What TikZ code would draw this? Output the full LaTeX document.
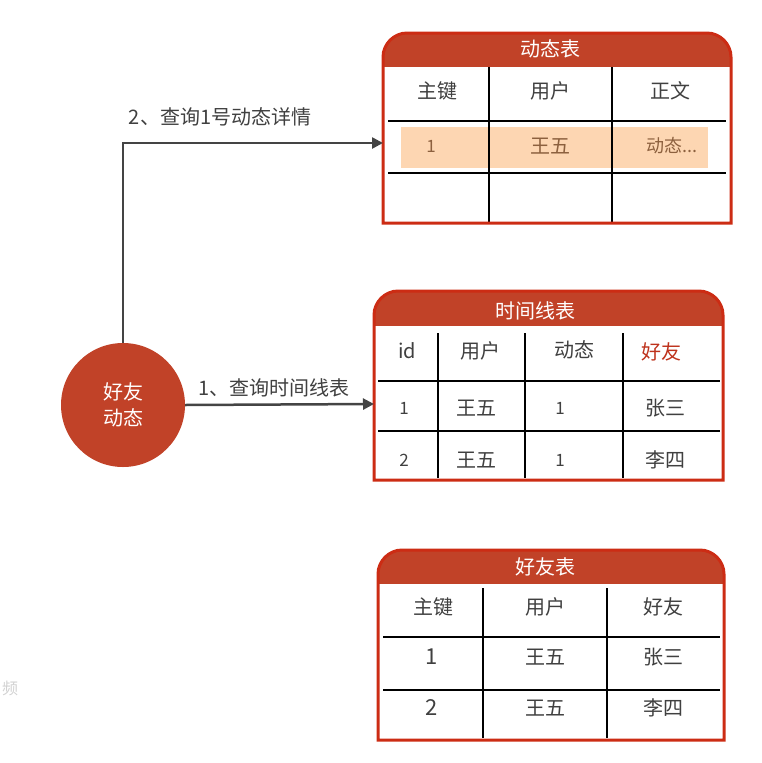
\documentclass[tikz,border=0pt]{standalone}
\usepackage{fontspec}
\setmainfont{Noto Sans CJK SC}
\usetikzlibrary{arrows.meta}

\definecolor{tblred}{RGB}{204,44,20}
\definecolor{headred}{RGB}{193,66,40}
\definecolor{hilite}{RGB}{253,214,178}
\definecolor{hitext}{RGB}{140,96,62}
\definecolor{txtgray}{RGB}{64,64,64}
\definecolor{arrgray}{RGB}{68,68,68}
\definecolor{redtext}{RGB}{190,50,28}

\begin{document}
\begin{tikzpicture}[
    x=1pt, y=-1pt,
    frame/.style={draw=tblred, line width=3pt},
    grid/.style={draw=black, line width=1.8pt},
    cell/.style={text=txtgray, font=\fontsize{20}{24}\selectfont, inner sep=0pt},
    title/.style={text=white, font=\fontsize{20}{24}\selectfont, inner sep=0pt},
    flow/.style={draw=arrgray, line width=2.5pt, -{Triangle[length=11pt, width=11pt]}},
]
\useasboundingbox (0,0) rectangle (762,763);

\node[text=black!18, font=\fontsize{16}{20}\selectfont, inner sep=0pt] (mark) at (10,688) {频};

% 动态表
\fill[headred] (383,67) -- (383,57) .. controls (383,44) and (394,33) .. (407,33) -- (707,33)
    .. controls (720,33) and (731,44) .. (731,57) -- (731,67) -- cycle;
\fill[white] (383,67) rectangle (731,223);
\fill[hilite] (401,127) rectangle (708,168);
\draw[grid] (489,67) -- (489,223) (612,67) -- (612,223);
\draw[grid] (388,121) -- (726,121) (388,173) -- (726,173);
\draw[frame] (383,223) -- (383,57) .. controls (383,44) and (394,33) .. (407,33) -- (707,33)
    .. controls (720,33) and (731,44) .. (731,57) -- (731,223) -- cycle;
\node[title] (detail) at (550,49) {动态表};
\node[cell] (detail_key) at (437,91) {主键};
\node[cell] (detail_user) at (550,91) {用户};
\node[cell] (detail_body) at (670,91) {正文};
\node[cell, text=hitext, font=\fontsize{17}{20}\selectfont] (detail_id) at (431,146) {1};
\node[cell, text=hitext] (detail_name) at (550,146) {王五};
\node[cell, text=hitext, font=\fontsize{18}{20}\selectfont] (detail_text) at (672,146) {动态...};
\coordinate (detail_in) at (383,143);

% 时间线表
\fill[headred] (374,326) -- (374,315) .. controls (374,302) and (385,291) .. (398,291) -- (699,291)
    .. controls (712,291) and (723,302) .. (723,315) -- (723,326) -- cycle;
\fill[white] (374,326) rectangle (723,480);
\draw[grid] (438,333) -- (438,478) (525,333) -- (525,478) (623,333) -- (623,478);
\draw[grid] (378,381) -- (720,381) (378,431) -- (720,431);
\draw[frame] (374,480) -- (374,315) .. controls (374,302) and (385,291) .. (398,291) -- (699,291)
    .. controls (712,291) and (723,302) .. (723,315) -- (723,480) -- cycle;
\node[title] (timeline) at (535,311) {时间线表};
\node[cell] (tl_id) at (407,351) {id};
\node[cell] (tl_user) at (480,351) {用户};
\node[cell] (tl_feed) at (574,350) {动态};
\node[cell, text=redtext] (tl_friend) at (661,352) {好友};
\node[cell, font=\fontsize{17}{20}\selectfont] (tl_id1) at (404,408) {1};
\node[cell] (tl_user1) at (476,408) {王五};
\node[cell, font=\fontsize{17}{20}\selectfont] (tl_feed1) at (560,408) {1};
\node[cell] (tl_friend1) at (665,408) {张三};
\node[cell, font=\fontsize{17}{20}\selectfont] (tl_id2) at (404,460) {2};
\node[cell] (tl_user2) at (476,460) {王五};
\node[cell, font=\fontsize{17}{20}\selectfont] (tl_feed2) at (560,460) {1};
\node[cell] (tl_friend2) at (665,460) {李四};
\coordinate (timeline_in) at (374,404);

% 好友表
\fill[headred] (378,584) -- (378,574) .. controls (378,561) and (389,550) .. (402,550) -- (700,550)
    .. controls (713,550) and (724,561) .. (724,574) -- (724,584) -- cycle;
\fill[white] (378,584) rectangle (724,740);
\draw[grid] (483,588) -- (483,738) (607,588) -- (607,738);
\draw[grid] (383,637) -- (720,637) (383,690) -- (720,690);
\draw[frame] (378,740) -- (378,574) .. controls (378,561) and (389,550) .. (402,550) -- (700,550)
    .. controls (713,550) and (724,561) .. (724,574) -- (724,740) -- cycle;
\node[title] (friends) at (545,567) {好友表};
\node[cell] (fr_key) at (433,607) {主键};
\node[cell] (fr_user) at (545,607) {用户};
\node[cell] (fr_friend) at (663,607) {好友};
\node[cell, font=\fontsize{22}{24}\selectfont] (fr_id1) at (432,657) {1};
\node[cell] (fr_user1) at (545,657) {王五};
\node[cell] (fr_friend1) at (663,657) {张三};
\node[cell, font=\fontsize{22}{24}\selectfont] (fr_id2) at (432,708) {2};
\node[cell] (fr_user2) at (545,708) {王五};
\node[cell] (fr_friend2) at (663,708) {李四};

% 好友动态
\node[circle, fill=headred, minimum size=124pt, inner sep=0pt, align=center, text=white,
      font=\fontsize{20}{26}\selectfont] (feed) at (123,405) {好友\\动态};

\draw[flow] (feed.east) -- (timeline_in) node[pos=.47, above=6pt, cell] (q1) {1、查询时间线表};
\draw[flow] (feed.north) -- (feed.north|-detail_in) -- (detail_in);
\node[cell] (q2) at (220,117) {2、查询1号动态详情};
\end{tikzpicture}
\end{document}
